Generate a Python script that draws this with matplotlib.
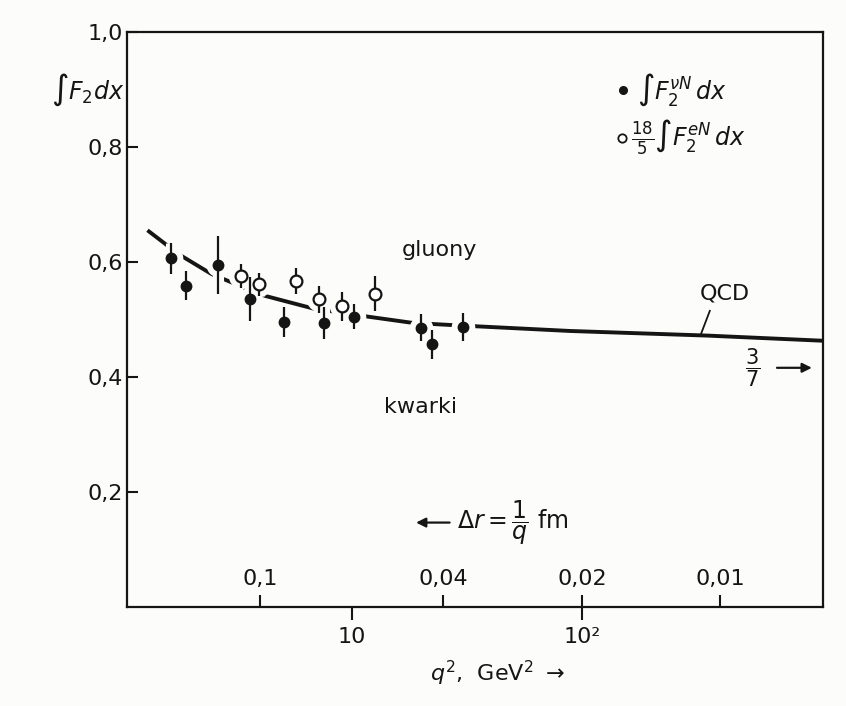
import numpy as np
import matplotlib
matplotlib.use('Agg')
import matplotlib.pyplot as plt
from matplotlib.ticker import NullLocator

# neutrino-nucleon points: q^2 [GeV^2], integral of F2, error
q2_nu = [1.64, 1.89, 2.61, 3.60, 5.06, 7.55, 10.2, 20.0, 22.3, 30.5]
f_nu = [0.606, 0.559, 0.595, 0.536, 0.496, 0.494, 0.505, 0.486, 0.457, 0.487]
err_nu = [0.027, 0.026, 0.050, 0.038, 0.026, 0.028, 0.022, 0.023, 0.025, 0.024]

# electron-nucleon points scaled by 18/5
q2_e = [3.29, 3.95, 5.69, 7.19, 9.02, 12.6]
f_e = [0.576, 0.561, 0.567, 0.535, 0.523, 0.545]
err_e = [0.021, 0.020, 0.022, 0.023, 0.025, 0.030]

# QCD prediction
q2_qcd = [1.29, 1.77, 2.45, 3.10, 4.19, 6.79, 11.2, 18.4, 28.0, 88.7, 350, 1120]
f_qcd = [0.655, 0.613, 0.579, 0.562, 0.541, 0.519, 0.506, 0.494, 0.490, 0.480, 0.472, 0.463]

y_ticks = [0.2, 0.4, 0.6, 0.8, 1.0]
y_labels = ['0,2', '0,4', '0,6', '0,8', '1,0']
q2_ticks = [10, 100]
q2_labels = ['10', '10²']
dr_ticks = [0.1, 0.04, 0.02, 0.01]
dr_labels = ['0,1', '0,04', '0,02', '0,01']

ink = '#151515'
bg = '#fcfcfa'


def q2_to_dr(q2):
    q2 = np.clip(np.asarray(q2, dtype=float), 1e-6, None)
    return 0.2 / np.sqrt(q2)


def dr_to_q2(dr):
    dr = np.clip(np.asarray(dr, dtype=float), 1e-6, None)
    return (0.2 / dr) ** 2


def main():
    plt.rcParams['font.family'] = 'DejaVu Sans'
    plt.rcParams['mathtext.fontset'] = 'dejavusans'

    fig = plt.figure(figsize=(8.46, 7.06), dpi=100, facecolor=bg)
    ax = fig.add_axes([0.150, 0.140, 0.823, 0.815], facecolor=bg)

    ax.set_xscale('log')
    ax.set_xlim(1.05, 1120)
    ax.set_ylim(0, 1.0)

    # QCD curve, broken where it meets the data points
    ax.plot(q2_qcd, f_qcd, color=ink, lw=2.8, solid_capstyle='butt', zorder=1)

    # white halos around the points
    ax.errorbar(q2_nu, f_nu, yerr=err_nu, fmt='o', color=bg, ms=16,
                elinewidth=8, capsize=0, zorder=2)
    ax.errorbar(q2_e, f_e, yerr=err_e, fmt='o', color=bg, ms=17,
                elinewidth=8, capsize=0, zorder=2)

    ax.errorbar(q2_nu, f_nu, yerr=err_nu, fmt='o', color=ink, ms=7.5,
                elinewidth=1.6, capsize=0, zorder=3)
    ax.errorbar(q2_e, f_e, yerr=err_e, fmt='o', color=ink, mfc='white',
                mec=ink, mew=1.6, ms=8.5, elinewidth=1.6, capsize=0, zorder=3)

    for side in ['left', 'right', 'top', 'bottom']:
        ax.spines[side].set_linewidth(1.6)
        ax.spines[side].set_color(ink)

    ax.set_yticks(y_ticks, y_labels)
    ax.tick_params(axis='y', direction='in', length=8, width=1.5,
                   pad=3, labelsize=16, colors=ink)
    ax.set_xticks(q2_ticks, q2_labels)
    ax.xaxis.set_minor_locator(NullLocator())
    ax.tick_params(axis='x', direction='out', length=9, width=1.5,
                   pad=5, labelsize=16, colors=ink)

    # spatial resolution scale along the bottom edge
    sec = ax.secondary_xaxis(0, functions=(q2_to_dr, dr_to_q2))
    sec.set_alignment('top')
    sec.set_xticks(dr_ticks, dr_labels)
    sec.xaxis.set_minor_locator(NullLocator())
    sec.tick_params(axis='x', direction='out', length=9, width=1.5,
                    pad=4, labelsize=16, colors=ink)
    sec.spines['top'].set_visible(False)
    sec.spines['bottom'].set_visible(False)

    ax.text(-0.004, 0.899, r'$\int F_2 dx$', transform=ax.transAxes,
            ha='right', va='center', fontsize=17, color=ink)
    ax.text(0.532, -0.115, r'$q^2$,  GeV$^2$ $\rightarrow$',
            transform=ax.transAxes, ha='center', va='center',
            fontsize=16, color=ink)

    # legend
    ax.plot([0.713], [0.899], 'o', color=ink, ms=5.5, transform=ax.transAxes)
    ax.text(0.733, 0.899, r'$\int F_2^{\nu N}\, dx$', transform=ax.transAxes,
            ha='left', va='center', fontsize=17, color=ink)
    ax.plot([0.711], [0.816], 'o', color=ink, mfc='white', mew=1.3, ms=6,
            transform=ax.transAxes)
    ax.text(0.724, 0.816, r'$\frac{18}{5}\int F_2^{eN}\, dx$',
            transform=ax.transAxes, ha='left', va='center',
            fontsize=17, color=ink)

    ax.text(23.9, 0.620, 'gluony', ha='center', va='center', fontsize=16,
            color=ink)
    ax.text(19.9, 0.347, 'kwarki', ha='center', va='center', fontsize=16,
            color=ink)

    ax.text(419, 0.545, 'QCD', ha='center', va='center', fontsize=16,
            color=ink)
    ax.plot([360, 329], [0.515, 0.474], color=ink, lw=1.3)

    ax.annotate(r'$\dfrac{3}{7}$', xy=(1000, 0.416), xytext=(553, 0.416),
                ha='center', va='center', fontsize=15, color=ink,
                arrowprops=dict(arrowstyle='-|>', color=ink, lw=1.6,
                                shrinkA=10, shrinkB=0, mutation_scale=14))

    ax.annotate(r'$\mathit{\Delta r} = \dfrac{1}{q}$ fm', xy=(19.0, 0.147),
                xytext=(28.5, 0.147), ha='left', va='center', fontsize=17,
                color=ink,
                arrowprops=dict(arrowstyle='-|>', color=ink, lw=1.6,
                                shrinkA=3, shrinkB=0, mutation_scale=14))

    fig.savefig('out.png', dpi=100, facecolor=bg)


if __name__ == '__main__':
    main()
